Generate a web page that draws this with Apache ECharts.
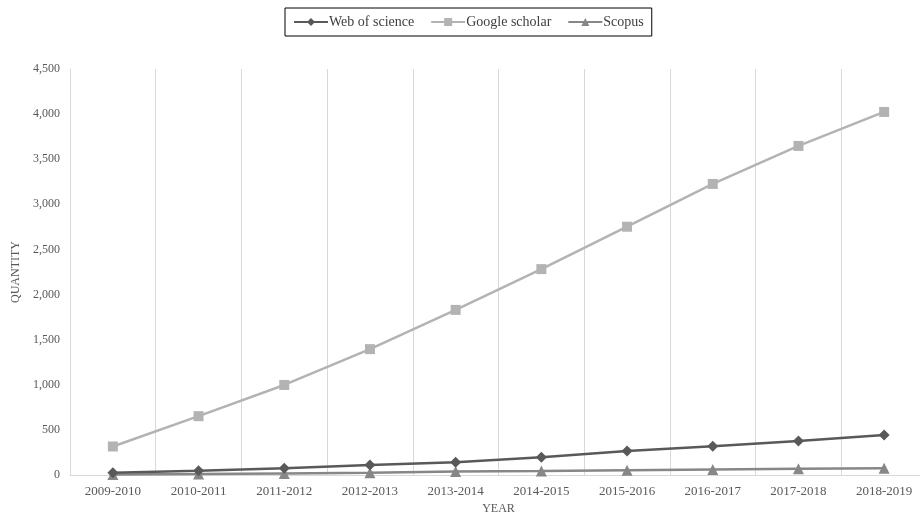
<!DOCTYPE html>
<html>
<head>
<meta charset="utf-8">
<script src="https://cdn.jsdelivr.net/npm/echarts@6/dist/echarts.min.js"></script>
<style>
  html, body { margin: 0; padding: 0; background: #fff; }
  #grafico { width: 920px; height: 515px; }
</style>
</head>
<body>
<div id="grafico"></div>
<script type="text/javascript">
// datos
var years = ["2009-2010", "2010-2011", "2011-2012", "2012-2013", "2013-2014",
             "2014-2015", "2015-2016", "2016-2017", "2017-2018", "2018-2019"];
var webOfScience = [26, 48, 75, 110, 142, 196, 266, 318, 377, 443];
var googleScholar = [316, 652, 998, 1395, 1830, 2282, 2752, 3226, 3647, 4024];
var scopus = [6, 10, 18, 25, 38, 45, 53, 61, 69, 74];
var yTicks = { min: 0, max: 4500, step: 500 };

var fuente = "Liberation Serif, Times New Roman, serif";
var myChart = echarts.init(document.getElementById("grafico"));

var option = {
  backgroundColor: "#fff",
  textStyle: { fontFamily: fuente },
  legend: {
    top: 8,
    left: 285,
    borderColor: "#000",
    borderWidth: 1,
    padding: [7, 8, 7, 8],
    itemGap: 16,
    itemWidth: 34,
    itemHeight: 10,
    textStyle: { fontFamily: fuente, fontSize: 14, color: "#404040", padding: [0, 0, 0, -4] },
    data: ["Web of science", "Google scholar", "Scopus"]
  },
  grid: { left: 70, right: -7, top: 69, bottom: 40, outerBoundsMode: "none", containLabel: false },
  xAxis: {
    type: "category",
    data: years,
    name: "YEAR",
    nameLocation: "middle",
    nameGap: 27,
    nameTextStyle: { fontFamily: fuente, fontSize: 12, color: "#595959" },
    axisLine: { lineStyle: { color: "#d9d9d9" } },
    axisTick: { show: false },
    axisLabel: { fontFamily: fuente, fontSize: 13, color: "#595959", margin: 10 },
    splitLine: { show: true, lineStyle: { color: "#d9d9d9", width: 1 } }
  },
  yAxis: {
    type: "value",
    min: yTicks.min,
    max: yTicks.max,
    interval: yTicks.step,
    name: "QUANTITY",
    nameLocation: "middle",
    nameGap: 47,
    nameTextStyle: { fontFamily: fuente, fontSize: 12, color: "#595959" },
    axisLine: { show: true, lineStyle: { color: "#d9d9d9" } },
    axisTick: { show: false },
    splitLine: { show: false },
    axisLabel: {
      fontFamily: fuente, fontSize: 12, color: "#595959", margin: 10,
      formatter: function (v) { return v.toLocaleString("en-US"); }
    }
  },
  series: [
    {
      name: "Web of science",
      type: "line",
      data: webOfScience,
      symbol: "diamond",
      symbolSize: 11,
      itemStyle: { color: "#595959" },
      lineStyle: { color: "#595959", width: 2.5 },
      z: 3
    },
    {
      name: "Google scholar",
      type: "line",
      data: googleScholar,
      symbol: "rect",
      symbolSize: 10,
      itemStyle: { color: "#b3b3b3" },
      lineStyle: { color: "#b3b3b3", width: 2.5 }
    },
    {
      name: "Scopus",
      type: "line",
      data: scopus,
      symbol: "triangle",
      symbolSize: 11,
      itemStyle: { color: "#878787" },
      lineStyle: { color: "#878787", width: 2.5 },
      z: 2
    }
  ]
};

myChart.setOption(option);
</script>
</body>
</html>
